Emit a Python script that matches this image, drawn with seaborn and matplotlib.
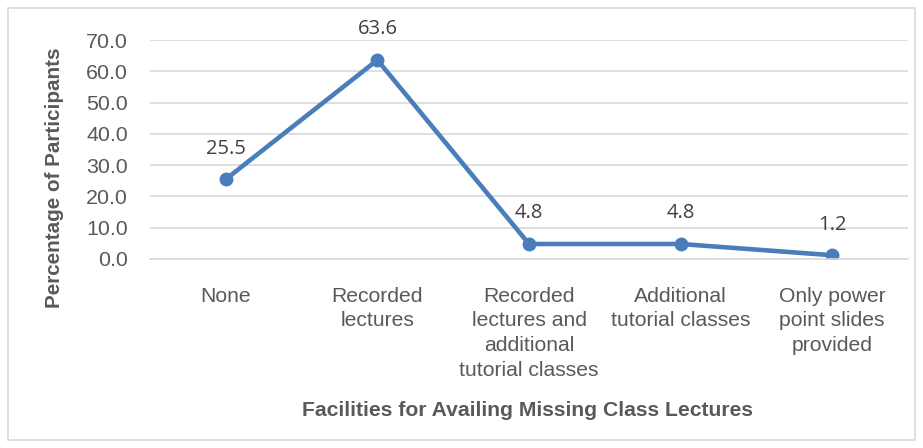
import matplotlib
matplotlib.use("Agg")
import matplotlib.pyplot as plt
import seaborn as sns
import pandas as pd
from matplotlib.patches import Rectangle

categories = ["None", "Recorded\nlectures", "Recorded\nlectures and\nadditional\ntutorial classes",
              "Additional\ntutorial classes", "Only power\npoint slides\nprovided"]
values = [25.5, 63.6, 4.8, 4.8, 1.2]
yticks = [0, 10, 20, 30, 40, 50, 60, 70]

sns.set_theme(style="white")
plt.rcParams['font.family'] = ['Liberation Sans', 'DejaVu Sans']

TEXT = "#595959"
LINE = "#4A7EBB"
GRID = "#D9D9D9"

fig = plt.figure(figsize=(9.23, 4.48), dpi=100)
ax = fig.add_axes([150/923, 1-259/448, 758/923, 219/448])

df = pd.DataFrame({"cat": categories, "val": values})
sns.lineplot(data=df, x="cat", y="val", ax=ax, color=LINE, linewidth=3.3,
             marker="o", markersize=10, markeredgewidth=0, sort=False)

ax.set_xlim(-0.5, len(categories) - 0.5)
ax.set_ylim(0, 70)
ax.set_yticks(yticks)
ax.set_yticklabels([f"{v:.1f}" for v in yticks])
ax.set_xticks(range(len(categories)))
ax.set_xticklabels(categories, linespacing=1.38)
ax.tick_params(axis="x", length=0, labelsize=15.2, colors=TEXT, pad=20)
ax.tick_params(axis="y", length=0, labelsize=15.4, colors=TEXT, pad=16)
for lbl in ax.get_xticklabels():
    lbl.set_verticalalignment("top")
    lbl.set_horizontalalignment("center")

ax.yaxis.grid(True, color=GRID, linewidth=1.2)
ax.set_axisbelow(True)
for s in ["left", "right", "top"]:
    ax.spines[s].set_visible(False)
ax.spines["bottom"].set_color(GRID)
ax.spines["bottom"].set_linewidth(1.2)

for i, v in enumerate(values):
    ax.annotate(f"{v:.1f}", (i, v), xytext=(0, 22), textcoords="offset points",
                ha="center", va="center", fontsize=14.5, color="#404040",
                family=["Open Sans", "DejaVu Sans"])

ax.set_xlabel("")
ax.set_ylabel("")
fig.text(528/923, 1-410/448, "Facilities for Availing Missing Class Lectures",
         ha="center", va="center", fontsize=15.2, fontweight="bold", color=TEXT)
fig.text(55/923, 1-178/448, "Percentage of Participants", rotation=90,
         ha="center", va="center", fontsize=14.9, fontweight="bold", color=TEXT)

fig.patches.append(Rectangle((8/923, 8/448), 907/923, 432/448, transform=fig.transFigure,
                             fill=False, edgecolor=GRID, linewidth=1.2))

fig.savefig("out.png", dpi=100)
